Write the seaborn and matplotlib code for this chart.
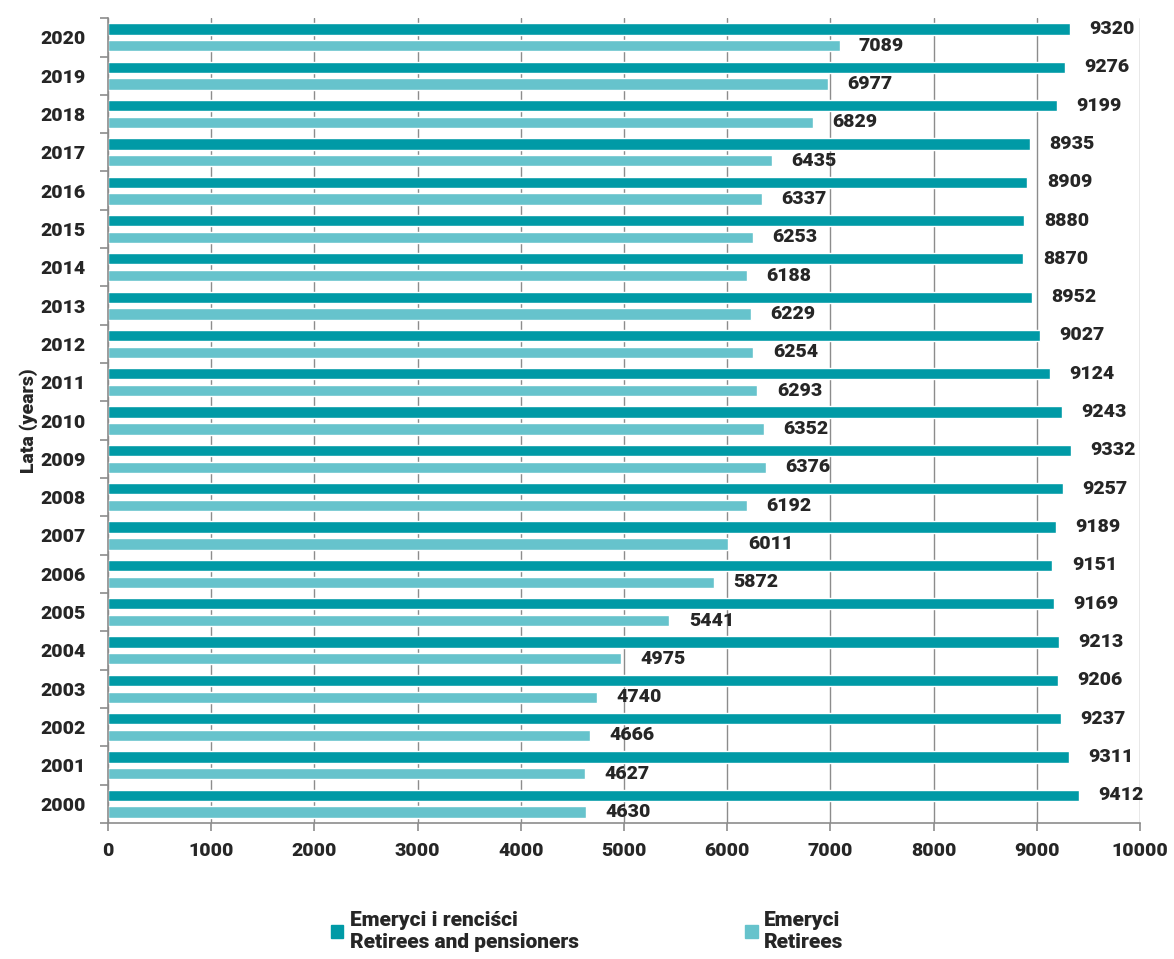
import numpy as np
import pandas as pd
import matplotlib
matplotlib.use('Agg')
import matplotlib.pyplot as plt
import seaborn as sns

# Data
years = [str(y) for y in range(2000, 2021)]
retirees_pensioners = [9412, 9311, 9237, 9206, 9213, 9169, 9151, 9189, 9257, 9332,
                       9243, 9124, 9027, 8952, 8870, 8880, 8909, 8935, 9199, 9276, 9320]
retirees = [4630, 4627, 4666, 4740, 4975, 5441, 5872, 6011, 6192, 6376,
            6352, 6293, 6254, 6229, 6188, 6253, 6337, 6435, 6829, 6977, 7089]
series_labels = ['Emeryci i renciści\nRetirees and pensioners', 'Emeryci\nRetirees']
colors = ['#009aa6', '#66c3cc']

df = pd.DataFrame({
    'Year': years * 2,
    'Value': retirees_pensioners + retirees,
    'Series': [series_labels[0]] * len(years) + [series_labels[1]] * len(years),
})

sns.set_style('white')
plt.rcParams['font.family'] = ['Roboto', 'DejaVu Sans']
plt.rcParams['font.weight'] = 'heavy'

fig = plt.figure(figsize=(11.74, 9.59), dpi=100)
ax = fig.add_axes([0.092, 0.142, 0.879, 0.839])

order = years[::-1]
sns.barplot(data=df, x='Value', y='Year', hue='Series', order=order,
            hue_order=series_labels, palette=colors, orient='h',
            width=0.88, gap=0.33, ax=ax, legend=False, saturation=1)

for cont in ax.containers:
    ax.bar_label(cont, fmt='%d', padding=14, fontsize=14, fontweight='heavy')

ax.set_xlim(0, 10000)
ax.set_xticks(np.arange(0, 10001, 1000))
ax.set_ylim(len(years) - 0.5, -0.5)
ax.grid(axis='x', color='#8c8c8c', linewidth=1)
ax.set_axisbelow(True)

# y tick marks between the year groups
ax.set_yticks(np.arange(-0.5, len(years), 1), minor=True)
ax.tick_params(axis='y', which='major', length=0, pad=16, labelsize=14)
ax.tick_params(axis='y', which='minor', length=6, color='#8c8c8c', width=1.2, left=True)
ax.tick_params(axis='x', length=6, color='#8c8c8c', width=1.2, bottom=True, pad=8, labelsize=14)
for lbl in ax.get_xticklabels() + ax.get_yticklabels():
    lbl.set_fontweight('heavy')

for side in ['top', 'right']:
    ax.spines[side].set_visible(False)
for side in ['left', 'bottom']:
    ax.spines[side].set_color('#8c8c8c')
    ax.spines[side].set_linewidth(1.2)

ax.set_xlabel('')
ax.set_ylabel('Lata (years)', fontsize=14, fontweight='heavy', labelpad=2)

handles = [plt.Rectangle((0, 0), 1, 1, color=c) for c in colors]
fig.legend(handles, series_labels, loc='lower center', bbox_to_anchor=(0.5, -0.012),
           ncol=2, frameon=False, handlelength=0.6, handleheight=0.6,
           handletextpad=0.3, columnspacing=8, prop={'size': 15, 'weight': 'heavy'})

fig.savefig('out.png', dpi=100)
